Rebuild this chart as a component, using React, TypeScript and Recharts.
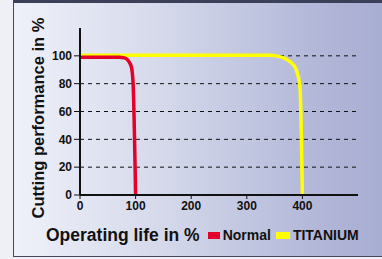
import { CartesianGrid, Line, LineChart, XAxis, YAxis } from "recharts";

const X_TICKS = [0, 100, 200, 300, 400];
const Y_TICKS = [0, 20, 40, 60, 80, 100];
const GRID_VALUES = [20, 40, 60, 80, 100];

const NORMAL_LIFE = [0, 70, 80, 86, 90, 93, 94.5, 95.5, 100];
const NORMAL_PERF = [99, 99, 98.5, 97, 94.5, 91, 86, 80, 0];

const TITANIUM_LIFE = [0, 340, 356, 369, 380, 388, 392, 394.5, 396, 400];
const TITANIUM_PERF = [100.5, 100.5, 99.8, 98, 95, 91, 86, 81, 75, 0];

const normal = NORMAL_LIFE.map((x, i) => ({ life: x, perf: NORMAL_PERF[i] }));
const titanium = TITANIUM_LIFE.map((x, i) => ({ life: x, perf: TITANIUM_PERF[i] }));

const FONT = "'Liberation Sans', Arial, sans-serif";
const tickStyle = { fill: "#111", fontSize: 12, fontWeight: 700, fontFamily: FONT };

function YTitle() {
  return (
    <text
      x={44}
      y={118}
      transform="rotate(-90 44 118)"
      textAnchor="middle"
      fontFamily={FONT}
      fontWeight={700}
      fontSize={16.5}
      fill="#111"
    >
      Cutting performance in %
    </text>
  );
}

function BottomRow() {
  const sw = { display: "inline-block", height: 7, marginRight: 3 };
  return (
    <div
      style={{
        position: "absolute",
        left: 46,
        top: 225,
        fontFamily: FONT,
        fontWeight: 700,
        color: "#111",
        whiteSpace: "nowrap",
        display: "flex",
        alignItems: "center",
        height: 20,
      }}
    >
      <span style={{ fontSize: 17.5, marginRight: 8 }}>Operating life in %</span>
      <span style={{ ...sw, width: 12, background: "#e4002b" }} />
      <span style={{ fontSize: 14, marginRight: 5 }}>Normal</span>
      <span style={{ ...sw, width: 14, background: "#ffff00" }} />
      <span style={{ fontSize: 14 }}>TITANIUM</span>
    </div>
  );
}

export default function App() {
  return (
    <div
      style={{
        position: "fixed",
        left: 0,
        top: 0,
        width: 382,
        height: 259,
        background: "#eef0f5",
        overflow: "hidden",
      }}
    >
      <div
        style={{
          position: "absolute",
          left: 13,
          top: 0,
          width: 380,
          height: 257,
          boxSizing: "border-box",
          borderLeft: "1px solid #44475a",
          borderTop: "3px solid #3b3f58",
          borderBottom: "1px solid #44475a",
          background: "linear-gradient(90deg, #eff1f9 0%, #d4d8ea 40%, #b6bbdb 75%, #a6abd1 100%)",
        }}
      />
      <div style={{ position: "absolute", left: 0, top: 0 }}>
        <LineChart width={382} height={259} margin={{ top: 28, right: 24, bottom: 34, left: 0 }}>
          <CartesianGrid
            vertical={false}
            horizontalValues={GRID_VALUES}
            stroke="#111"
            strokeDasharray="4 4"
          />
          <XAxis
            type="number"
            dataKey="life"
            domain={[0, 500]}
            ticks={X_TICKS}
            interval={0}
            height={30}
            allowDataOverflow
            axisLine={{ stroke: "#111", strokeWidth: 2 }}
            tickLine={{ stroke: "#111" }}
            tickSize={4}
            tick={tickStyle}
          />
          <YAxis
            type="number"
            domain={[0, 120]}
            ticks={Y_TICKS}
            interval={0}
            width={80}
            axisLine={{ stroke: "#111", strokeWidth: 2 }}
            tickLine={{ stroke: "#111" }}
            tickSize={6}
            tick={tickStyle}
            label={<YTitle />}
          />
          <Line
            data={titanium}
            dataKey="perf"
            type="monotone"
            stroke="#ffff00"
            strokeWidth={3.5}
            dot={false}
            isAnimationActive={false}
          />
          <Line
            data={normal}
            dataKey="perf"
            type="monotone"
            stroke="#e4002b"
            strokeWidth={3.5}
            dot={false}
            isAnimationActive={false}
          />
        </LineChart>
      </div>
      <BottomRow />
    </div>
  );
}
